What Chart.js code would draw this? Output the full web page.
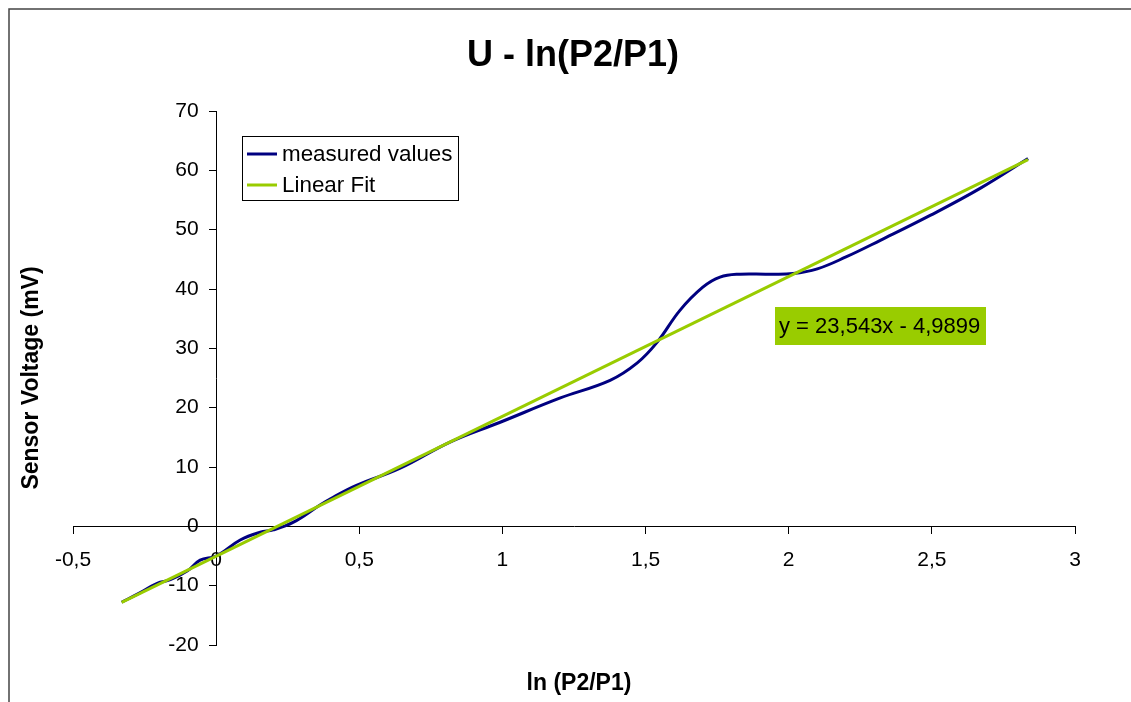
<!DOCTYPE html>
<html><head><meta charset="utf-8">
<script src="https://cdn.jsdelivr.net/npm/chart.js@4.4.1/dist/chart.umd.min.js"></script>
<style>html,body{margin:0;padding:0;background:#fff;overflow:hidden}#wrap{width:1131px;height:702px;position:relative}</style>
</head><body><div id="wrap"><canvas id="c" width="1131" height="702"></canvas></div>
<script>
const measuredX = [-0.33, -0.27, -0.206, -0.16, -0.1, -0.056, 0.0, 0.084, 0.154, 0.2, 0.27, 0.363, 0.409, 0.49, 0.643, 0.817, 0.99, 1.2, 1.376, 1.47, 1.54, 1.62, 1.70, 1.76, 1.83, 1.925, 2.015, 2.1, 2.2, 2.32, 2.494, 2.67, 2.836];
const measuredY = [-12.8, -11.3, -9.6, -9.0, -7.5, -5.7, -5.0, -2.3, -1.0, -0.6, 0.7, 3.6, 4.9, 6.9, 9.8, 14.2, 17.5, 21.6, 24.6, 27.5, 31.0, 36.4, 40.3, 42.0, 42.5, 42.5, 42.6, 43.4, 45.4, 48.2, 52.4, 57.0, 62.0];
const fitX = [-0.33, 2.836];
const fitY = [-12.8, 61.8];
const xTicks = [-0.5, 0, 0.5, 1, 1.5, 2, 2.5, 3];
const yTicks = [-20, -10, 0, 10, 20, 30, 40, 50, 60, 70];
const seriesNames = ['measured values', 'Linear Fit'];
const seriesColors = ['#000080', '#99CC00'];
const titleText = 'U - ln(P2/P1)';
const xTitle = 'ln (P2/P1)';
const yTitle = 'Sensor Voltage (mV)';
const fitLabel = 'y = 23,543x - 4,9899';

const FAM = '"Liberation Sans", Arial, Helvetica, sans-serif';

const overlay = {
  id: 'overlay',
  afterDraw(chart) {
    const ctx = chart.ctx;
    ctx.save();
    ctx.strokeStyle = '#444';
    ctx.lineWidth = 1.5;
    ctx.strokeRect(9, 9, 1300, 900);
    ctx.fillStyle = '#000';
    ctx.textAlign = 'center';
    ctx.textBaseline = 'middle';
    ctx.font = 'bold 36px ' + FAM;
    ctx.fillText(titleText, 573, 56);
    ctx.font = 'bold 23px ' + FAM;
    ctx.fillText(xTitle, 579, 684);
    ctx.save();
    ctx.translate(32, 378);
    ctx.rotate(-Math.PI / 2);
    ctx.fillText(yTitle, 0, 0);
    ctx.restore();
    ctx.fillStyle = '#fff';
    ctx.fillRect(242, 136, 216, 64);
    ctx.strokeStyle = '#000';
    ctx.lineWidth = 1;
    ctx.strokeRect(242.5, 136.5, 216, 64);
    ctx.font = '22.4px ' + FAM;
    ctx.textAlign = 'left';
    const rows = [154, 185];
    chart.data.datasets.forEach((ds, i) => {
      ctx.strokeStyle = ds.borderColor;
      ctx.lineWidth = 3;
      ctx.beginPath();
      ctx.moveTo(247, rows[i]);
      ctx.lineTo(277, rows[i]);
      ctx.stroke();
      ctx.fillStyle = '#000';
      ctx.fillText(ds.label, 282, rows[i] + 1);
    });
    ctx.fillStyle = '#99CC00';
    ctx.fillRect(775, 307, 211, 38);
    ctx.fillStyle = '#000';
    ctx.font = '22px ' + FAM;
    ctx.fillText(fitLabel, 779, 327);
    ctx.restore();
  }
};

const tickFont = { family: FAM, size: 21 };

new Chart(document.getElementById('c'), {
  type: 'scatter',
  data: {
    datasets: [
      { label: seriesNames[0], data: measuredX.map((x, i) => ({ x, y: measuredY[i] })), showLine: true,
        borderColor: seriesColors[0], borderWidth: 3, pointRadius: 0, tension: 0.4, order: 2, yAxisID: 'y' },
      { label: seriesNames[1], data: fitX.map((x, i) => ({ x, y: fitY[i] })), showLine: true,
        borderColor: seriesColors[1], borderWidth: 3, pointRadius: 0, order: 1, yAxisID: 'y' }
    ]
  },
  options: {
    responsive: false,
    animation: false,
    layout: { padding: { left: 73, right: 56, top: 111, bottom: 57 } },
    plugins: { legend: { display: false }, tooltip: { enabled: false }, title: { display: false } },
    scales: {
      x: {
        type: 'linear', min: -0.5, max: 3, position: { y: 0 },
        afterBuildTicks: s => { s.ticks = xTicks.map(v => ({ value: v })); },
        ticks: { autoSkip: false, maxRotation: 0, padding: 14, color: '#000', font: tickFont,
          callback: v => String(v).replace('.', ',') },
        grid: { drawOnChartArea: false, drawTicks: true, tickLength: 7, color: '#000', tickColor: '#000' },
        border: { display: true, color: '#000', width: 1 }
      },
      y: {
        type: 'linear', axis: 'y', min: -20, max: 70, position: { x: 0 },
        afterBuildTicks: s => { s.ticks = yTicks.map(v => ({ value: v })); },
        ticks: { display: false },
        grid: { drawOnChartArea: false, drawTicks: true, tickLength: 7, color: '#000', tickColor: '#000' },
        border: { display: true, color: '#000', width: 1 }
      },
      yLabels: {
        type: 'linear', axis: 'y', min: -20, max: 70, position: { x: -0.061 },
        afterBuildTicks: s => { s.ticks = yTicks.map(v => ({ value: v })); },
        ticks: { autoSkip: false, padding: 0, color: '#000', font: tickFont, callback: v => String(v) },
        grid: { display: false, drawTicks: false },
        border: { display: false }
      }
    }
  },
  plugins: [overlay]
});
</script>
</body></html>
